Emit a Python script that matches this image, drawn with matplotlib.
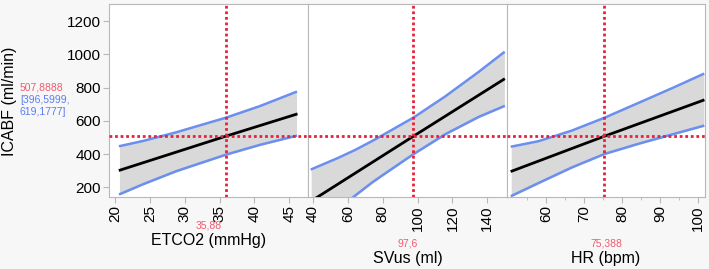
import matplotlib.pyplot as plt
import numpy as np

plt.rcParams['font.family'] = ['Liberation Sans', 'DejaVu Sans']

# ETCO2 panel: prediction line and confidence band
etco2_line_x = [20.7, 35.88, 46]
etco2_mean = [304, 507.9, 640]
etco2_x = [20.7, 24.05, 28.8, 35.88, 40.7, 45.95]
etco2_upper = [449, 480, 532, 619.2, 688, 774]
etco2_lower = [160, 220, 298, 396.6, 455, 510]

# SVus panel
svus_line_x = [39.3, 97.6, 149.4]
svus_mean = [120, 507.9, 850]
svus_x = [39.3, 54.5, 64.1, 73.7, 77.5, 97.6, 115.9, 135, 149.4]
svus_upper = [310, 378, 425, 478, 500, 620, 748, 895, 1012]
svus_lower = [-60, 72, 150, 228, 256, 400, 520, 624, 688]

# HR panel
hr_line_x = [51, 75.388, 101.4]
hr_mean = [298, 507.9, 724]
hr_x = [51, 58, 66.8, 75.388, 84.3, 93.1, 101.4]
hr_upper = [446, 478, 542, 619, 708, 796, 882]
hr_lower = [150, 226, 320, 401, 462, 518, 570]

x_labels = ['ETCO2 (mmHg)', 'SVus (ml)', 'HR (bpm)']
x_current = ['35,88', '97,6', '75,388']
y_current = '507,8888'
y_ci = '[396,5999,\n619,1777]'

W, H = 709, 269
fig = plt.figure(figsize=(W / 100, H / 100), dpi=100, facecolor='#f7f7f7')

edges = [109, 308, 507, 705]
top, bottom = 4, 197

red = '#e8203a'
blue = '#6b8ff0'
spine_c = '#b8b8b8'

panels = [
    (etco2_line_x, etco2_mean, etco2_x, etco2_upper, etco2_lower, 35.88,
     (19.1, 47.7), np.arange(20, 46, 5), []),
    (svus_line_x, svus_mean, svus_x, svus_upper, svus_lower, 97.6,
     (37.1, 151.3), np.arange(40, 141, 20), []),
    (hr_line_x, hr_mean, hr_x, hr_upper, hr_lower, 75.388,
     (49.7, 101.9), np.arange(60, 101, 10), np.arange(55, 100, 10)),
]

for i, (lx, m, x, up, lo, xc, xl, ticks, minors) in enumerate(panels):
    ax = fig.add_axes([edges[i] / W, 1 - bottom / H,
                       (edges[i + 1] - edges[i]) / W, (bottom - top) / H])
    ax.set_facecolor('white')
    ax.fill_between(x, lo, up, color='#d9d9d9', zorder=1)
    ax.plot(x, up, color=blue, lw=1.8, zorder=2, solid_joinstyle='round')
    ax.plot(x, lo, color=blue, lw=1.8, zorder=2, solid_joinstyle='round')
    ax.plot(lx, m, color='black', lw=2, zorder=3)
    ax.axvline(xc, color=red, ls=(0, (1, 1)), lw=2, zorder=4)
    ax.axhline(507.9, color=red, ls=(0, (1, 1)), lw=2, zorder=4)
    ax.set_xlim(*xl)
    ax.set_ylim(142, 1304)
    ax.set_xticks(ticks)
    ax.set_xticks(minors, minor=True)
    ax.tick_params(axis='x', which='major', labelrotation=90, labelsize=11,
                   length=4, color=spine_c, pad=2)
    ax.tick_params(axis='x', which='minor', length=2.5, color=spine_c)
    for s in ax.spines.values():
        s.set_color(spine_c)
    if i == 0:
        ax.set_yticks([200, 400, 600, 800, 1000, 1200])
        ax.tick_params(axis='y', labelsize=11, length=4, color=spine_c, pad=2)
    else:
        ax.set_yticks([])

    cx = (edges[i] + edges[i + 1]) / 2 / W
    cur_y = 226 if i == 0 else 244
    fig.text(cx, 1 - cur_y / H, x_current[i], color='#f25a6e', fontsize=7.5,
             ha='center', va='center')
    fig.text(cx, 1 - (cur_y + 15) / H, x_labels[i], fontsize=11.5,
             ha='center', va='center')

fig.text(10 / W, 1 - 101 / H, 'ICABF (ml/min)', rotation=90, fontsize=11.5,
         ha='center', va='center')
fig.text(20 / W, 1 - 88 / H, y_current, color='#f25a6e', fontsize=7.5,
         ha='left', va='center')
fig.text(20 / W, 1 - 106 / H, y_ci, color='#5a7cf5', fontsize=7.5,
         ha='left', va='center', linespacing=1.3)

fig.savefig('out.png', dpi=100, facecolor=fig.get_facecolor())
